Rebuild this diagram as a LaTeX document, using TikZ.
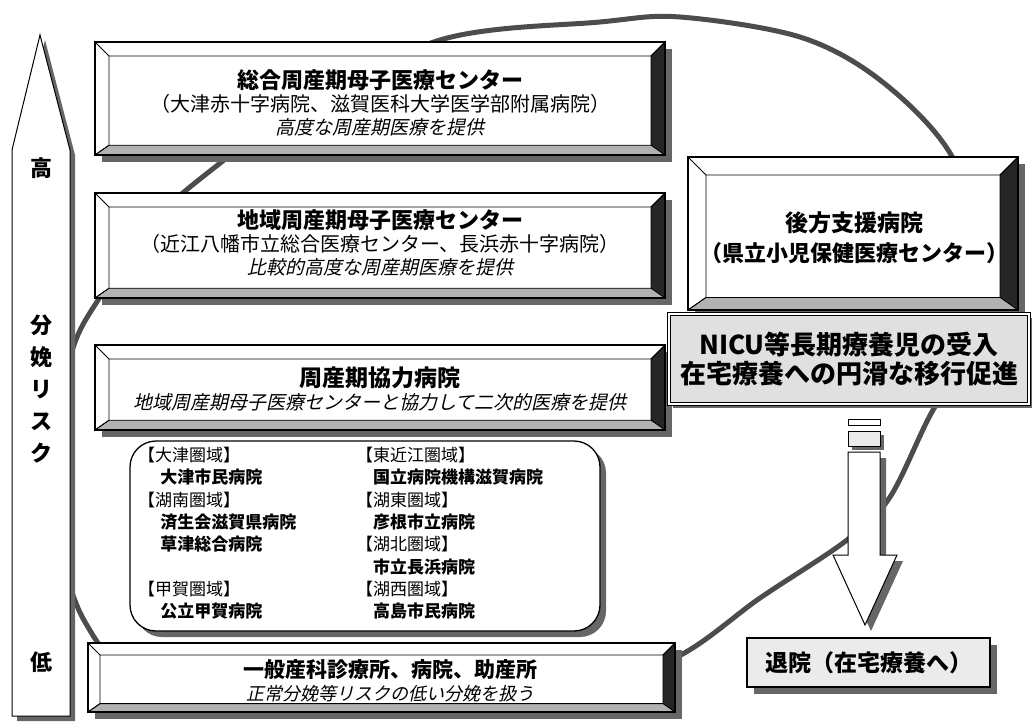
\documentclass[tikz,border=0pt]{standalone}
\usepackage{fontspec}
\setmainfont{Noto Sans CJK JP}[AutoFakeSlant=0.22]
\usetikzlibrary{shadows}
\newcommand\hosp[2][1.3em]{\hspace*{#1}{\bfseries #2}}

\begin{document}
\begin{tikzpicture}[x=1pt,y=-1pt,
  ring/.style={draw=black!70,line width=5pt},
  boxshadow/.style={drop shadow={shadow xshift=#1,shadow yshift=-#1,fill=black!60,opacity=1}},
  boxshadow/.default=7pt,
  bevel/.style={draw,line width=1.3pt,fill=white,boxshadow,
    path picture={
      \path (path picture bounding box.north west) coordinate (bb-nw)
            (path picture bounding box.north east) coordinate (bb-ne)
            (path picture bounding box.south west) coordinate (bb-sw)
            (path picture bounding box.south east) coordinate (bb-se);
      \filldraw[fill=black!85,line width=.8pt] (bb-ne) -- (bb-se) -- ([shift={(-#1,.7*#1)}]bb-se) -- ([shift={(-#1,-#1)}]bb-ne) -- cycle;
      \filldraw[fill=black!30,line width=.8pt] (bb-sw) -- (bb-se) -- ([shift={(-#1,.7*#1)}]bb-se) -- ([shift={(#1,.7*#1)}]bb-sw) -- cycle;
      \draw[line width=.8pt] (bb-nw) -- ([shift={(#1,-#1)}]bb-nw) -- ([shift={(-#1,-#1)}]bb-ne) -- (bb-ne)
            ([shift={(#1,-#1)}]bb-nw) -- ([shift={(#1,.7*#1)}]bb-sw) -- (bb-sw);
    }},
  bevel/.default=14pt,
  boxtext/.style={align=center,font=\fontsize{20}{23}\selectfont},
  risk/.style={align=center,font=\bfseries\fontsize{22}{32}\selectfont},
  list/.style={align=left,anchor=north west,inner sep=0pt,font=\fontsize{17}{22.3}\selectfont}]
  \path[use as bounding box,fill=white] (0,0) rectangle (1032,726);
  % ring behind everything
  \draw[ring] plot[smooth cycle,tension=.55] coordinates {(74,345) (100,297) (150,225) (205,175) (290,115) (440,40) (600,22) (680,17) (800,37) (880,80) (950,153) (990,260) (975,350) (933,410) (890,497) (847,540) (760,598) (677,657) (560,700) (350,712) (150,680) (85,622) (55,520) (58,420)};

  % risk arrow
  \filldraw[line width=1pt,fill=white,boxshadow=5pt] (40,35) -- (70,150) -- (70,716) -- (12,716) -- (12,150) -- cycle;
  \node[risk] (risk-high) at (41,168) {高};
  \node[risk] (risk) at (41,389) {分\\娩\\リ\\ス\\ク};
  \node[risk] (risk-low) at (41,662) {低};

  % levels
  \node[bevel,minimum width=570pt,minimum height=113pt] (sogo) at (380,98.5) {};
  \node[boxtext] (sogo-txt) at (380,103) {{\bfseries\fontsize{22}{23}\selectfont 総合周産期母子医療センター}\\（大津赤十字病院、滋賀医科大学医学部附属病院）\\{\itshape\fontsize{19}{23}\selectfont 高度な周産期医療を提供}};
  \node[bevel,minimum width=570pt,minimum height=105pt] (chiiki) at (380,245.5) {};
  \node[boxtext] (chiiki-txt) at (380,243) {{\bfseries\fontsize{22}{23}\selectfont 地域周産期母子医療センター}\\（近江八幡市立総合医療センター、長浜赤十字病院）\\{\itshape\fontsize{19}{23}\selectfont 比較的高度な周産期医療を提供}};
  \node[bevel,minimum width=570pt,minimum height=85pt] (kyoryoku) at (380,387.5) {};
  \node[boxtext] (kyoryoku-txt) at (380,389) {{\bfseries\fontsize{23}{23}\selectfont 周産期協力病院}\\{\itshape\fontsize{19}{23}\selectfont 地域周産期母子医療センターと協力して二次的医療を提供}};

  % hospitals by area
  \node[draw,line width=1.3pt,fill=white,rounded corners=26pt,minimum width=470pt,minimum height=190pt,boxshadow=6pt] (areas) at (365,536) {};
  \node[list] (areas-w) at (138,447) {【大津圏域】\\\hosp{大津市民病院}\\【湖南圏域】\\\hosp{済生会滋賀県病院}\\\hosp{草津総合病院}\\[22.3pt]【甲賀圏域】\\\hosp{公立甲賀病院}};
  \node[list] (areas-e) at (356,447) {【東近江圏域】\\\hosp[1em]{国立病院機構滋賀病院}\\【湖東圏域】\\\hosp[1em]{彦根市立病院}\\【湖北圏域】\\\hosp[1em]{市立長浜病院}\\【湖西圏域】\\\hosp[1em]{高島市民病院}};

  \node[bevel=12pt,minimum width=587pt,minimum height=69pt] (ippan) at (381.5,677.5) {};
  \node[boxtext] (ippan-txt) at (390,681) {{\bfseries\fontsize{21}{23}\selectfont 一般産科診療所、病院、助産所}\\{\itshape\fontsize{18}{23}\selectfont 正常分娩等リスクの低い分娩を扱う}};

  % support hospital
  \node[bevel=18pt,minimum width=330pt,minimum height=153pt] (koho) at (853,233.5) {};
  \node[align=center,font=\bfseries\fontsize{22}{30}\selectfont] (koho-txt) at (854,238) {{\fontsize{23}{30}\selectfont 後方支援病院}\\（県立小児保健医療センター）};
  \node[draw,line width=1.2pt,double,double distance=2.5pt,fill=black!12,minimum width=360pt,minimum height=90pt,boxshadow=4pt,align=center,font=\bfseries\fontsize{26}{29}\selectfont] (nicu) at (849,359) {NICU等長期療養児の受入\\在宅療養への円滑な移行促進};

  % down arrow
  \filldraw[line width=1pt,fill=white] (848,419) rectangle (880,425);
  \filldraw[line width=1pt,fill=black!8,boxshadow=4pt] (848,431) rectangle (880,446);
  \filldraw[line width=1pt,fill=white,boxshadow=6pt] (848,452) -- (880,452) -- (880,555) -- (897,555) -- (865,625) -- (833,555) -- (848,555) -- cycle;

  \node[draw,line width=2.2pt,fill=black!8,minimum width=243pt,minimum height=49pt,boxshadow=7pt,font=\bfseries\fontsize{23}{26}\selectfont] (taiin) at (868.5,662.5) {退院（在宅療養へ）};
\end{tikzpicture}
\end{document}
